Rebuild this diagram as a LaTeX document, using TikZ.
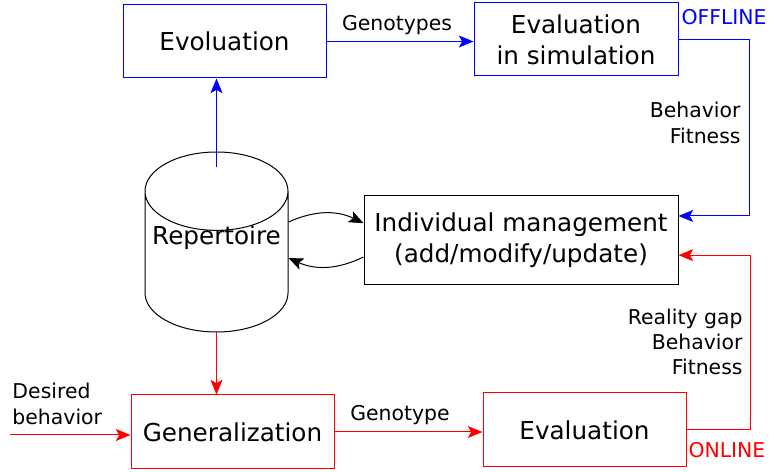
\documentclass[tikz,border=0pt]{standalone}
\usepackage{fontspec}
\setmainfont{DejaVu Sans}
\usetikzlibrary{shapes.geometric,arrows.meta}

\begin{document}
\begin{tikzpicture}[x=0.75pt,y=0.75pt,line width=0.75pt,
    >={Stealth[length=11pt,width=9pt,inset=2.5pt]},
    block/.style={draw,minimum width=152.25pt,minimum height=54.75pt,align=center,
      font=\fontsize{18.5}{23.25}\selectfont},
    lbl/.style={inner sep=0pt,align=right,font=\fontsize{15.3}{19}\selectfont}]
  \useasboundingbox (0,0) rectangle (769,472);

  \node[block,blue] (evo) at (224.5,430.5) {\color{black}Evoluation};
  \node[block,blue,minimum width=153pt] (sim) at (576,432.5) {\color{black}Evaluation\\\color{black}in simulation};
  \node[block,minimum width=235.5pt,minimum height=66.75pt] (ind) at (521,231.5) {Individual management\\(add/modify/update)};
  \node[block,red,minimum height=55.5pt] (gen) at (232.5,40) {\color{black}Generalization};
  \node[block,red,minimum height=55.5pt] (eva) at (584.5,42) {\color{black}Evaluation};
  \node[draw,cylinder,shape border rotate=90,aspect=0.57,minimum width=107.25pt,minimum height=135pt,
    anchor=shape center,font=\fontsize{18.5}{23.25}\selectfont] (rep) at (216.5,230) {\phantom{Repertoire}};
  \node[font=\fontsize{18.5}{23.25}\selectfont] (reptxt) at (216.5,234) {Repertoire};
  \coordinate (repr) at (rep.east |- reptxt.center);

  \node[lbl] (gtypes) at (397,447) {Genotypes};
  \node[lbl,blue,anchor=west] (off) at (681,455) {OFFLINE};
  \node[lbl,anchor=east] (bf) at (741,349) {Behavior\\Fitness};
  \node[lbl,anchor=east] (rbf) at (743,130) {Reality gap\\Behavior\\Fitness};
  \node[lbl,red,anchor=west] (on) at (688,22) {ONLINE};
  \node[lbl] (gtype) at (400,57) {Genotype};
  \node[lbl,align=left,anchor=west] (des) at (12,68) {Desired\\behavior};
  \coordinate (din) at (10,37);

  \draw[blue,->] (evo.east) -- (evo.east -| sim.west);
  \draw[blue,->] ([yshift=-12pt]rep.north) -- (rep.north |- evo.south);
  \draw[blue,->] (sim.east) -- ++(71,0) |- ([yshift=18.4pt]ind.east);
  \draw[red,->] (eva.east) -- ++(64,0) |- ([yshift=-11pt]ind.east);
  \draw[red,->] (rep.south) -- (rep.south |- gen.north);
  \draw[red,->] (din) -- (din -| gen.west);
  \draw[red,->] (gen.east) -- (gen.east -| eva.west);
  \draw[->] ([yshift=12pt]repr) to[bend left=25] ([yshift=13pt]ind.west);
  \draw[->] ([yshift=-12.4pt]ind.west) to[bend left=25] ([yshift=-15pt]repr);
\end{tikzpicture}
\end{document}
